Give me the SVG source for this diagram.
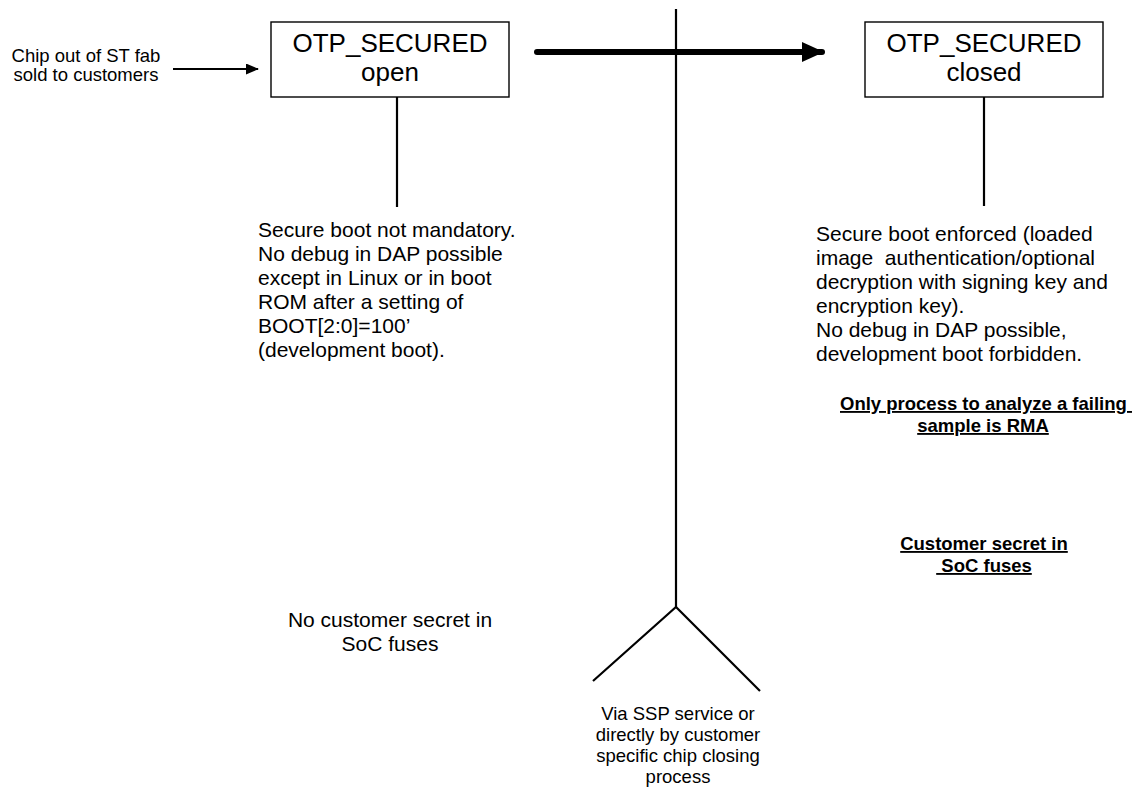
<svg xmlns="http://www.w3.org/2000/svg" width="1136" height="787" viewBox="0 0 1136 787">
<defs>
<style>
.box{fill:#fff;stroke:#000;stroke-width:1.4}
.ln{stroke:#000;stroke-width:2.2;fill:none}
.t{font-family:"Liberation Sans",Arial,sans-serif;fill:#000}
.title{font-size:26px;text-anchor:middle}
.body{font-size:21px}
.small{font-size:18.5px;text-anchor:middle}
.bold{font-size:18.5px;font-weight:bold;text-anchor:middle;text-decoration:underline}
</style>
<marker id="ah" viewBox="0 0 13 11" refX="12" refY="5.5" markerWidth="13" markerHeight="11" markerUnits="userSpaceOnUse" orient="auto">
<path d="M0,0 L13,5.5 L0,11 Z" fill="#000"/>
</marker>
<marker id="ahb" viewBox="0 0 22 20" refX="20" refY="10" markerWidth="22" markerHeight="20" markerUnits="userSpaceOnUse" orient="auto">
<path d="M0,0 L22,10 L0,20 Z" fill="#000"/>
</marker>
</defs>
<rect width="1136" height="787" fill="#fff"/>
<g id="connectors">
<line class="ln" x1="173" y1="69" x2="258" y2="69" marker-end="url(#ah)"/>
<line x1="537" y1="52" x2="822" y2="52" stroke="#000" stroke-width="6" stroke-linecap="round" marker-end="url(#ahb)"/>
<line class="ln" x1="397" y1="97" x2="397" y2="207"/>
<line class="ln" x1="984" y1="97" x2="984" y2="206"/>
<polyline class="ln" points="676,9 676,607"/>
<polyline class="ln" points="593,681 676,607 760,691"/>
</g>
<g id="node-start">
<text class="t small"><tspan x="86" y="62">Chip out of ST fab</tspan><tspan x="86" y="81">sold to customers</tspan></text>
</g>
<g id="node-open">
<rect class="box" x="271" y="22" width="238" height="75"/>
<text class="t title"><tspan x="390" y="52">OTP_SECURED</tspan><tspan x="390" y="81">open</tspan></text>
</g>
<g id="node-closed">
<rect class="box" x="865" y="22" width="238" height="75"/>
<text class="t title"><tspan x="984" y="52">OTP_SECURED</tspan><tspan x="984" y="81">closed</tspan></text>
</g>
<g id="note-open">
<text class="t body"><tspan x="258" y="237">Secure boot not mandatory.</tspan><tspan x="258" y="261">No debug in DAP possible</tspan><tspan x="258" y="285">except in Linux or in boot</tspan><tspan x="258" y="309">ROM after a setting of</tspan><tspan x="258" y="333">BOOT[2:0]=100’</tspan><tspan x="258" y="357">(development boot).</tspan></text>
</g>
<g id="note-closed">
<text class="t body" xml:space="preserve"><tspan x="816" y="241">Secure boot enforced (loaded</tspan><tspan x="816" y="265">image  authentication/optional</tspan><tspan x="816" y="289">decryption with signing key and</tspan><tspan x="816" y="313">encryption key).</tspan><tspan x="816" y="337">No debug in DAP possible,</tspan><tspan x="816" y="361">development boot forbidden.</tspan></text>
</g>
<g id="note-rma">
<text class="t bold" xml:space="preserve"><tspan x="986" y="410">Only process to analyze a failing </tspan><tspan x="983" y="432">sample is RMA</tspan></text>
</g>
<g id="note-secret">
<text class="t bold" xml:space="preserve"><tspan x="984" y="550">Customer secret in</tspan><tspan x="984" y="572"> SoC fuses</tspan></text>
</g>
<g id="note-nosecret">
<text class="t body" text-anchor="middle"><tspan x="390" y="627">No customer secret in</tspan><tspan x="390" y="651">SoC fuses</tspan></text>
</g>
<g id="note-closing">
<text class="t small"><tspan x="678" y="720">Via SSP service or</tspan><tspan x="678" y="741">directly by customer</tspan><tspan x="678" y="762">specific chip closing</tspan><tspan x="678" y="783">process</tspan></text>
</g>
</svg>
